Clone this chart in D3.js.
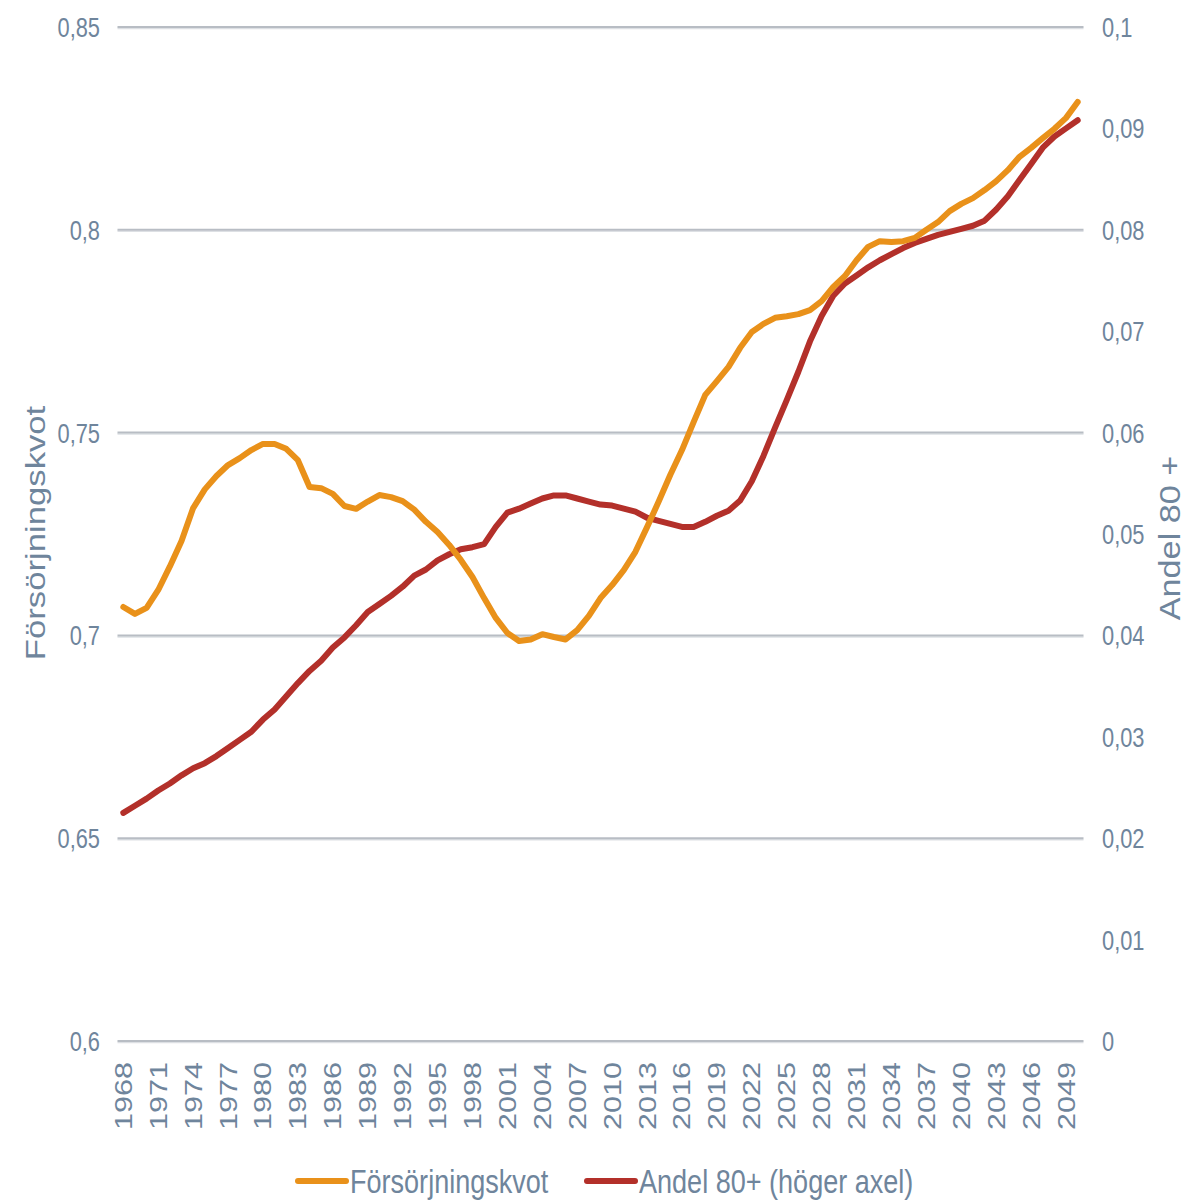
<!DOCTYPE html>
<html>
<head>
<meta charset="utf-8">
<script src="https://cdn.jsdelivr.net/npm/d3@7"></script>
<style>
  body { margin: 0; background: #fff; }
  svg text { font-family: "Liberation Sans", Arial, sans-serif; fill: #6f859c; }
</style>
</head>
<body>
<div id="chart"></div>
<script>
// years 1968..2050, one point per year
const years = d3.range(1968, 2051);

const forsorjningskvot = [
  0.707, 0.7053, 0.7068, 0.7112, 0.717, 0.7233, 0.7314, 0.736, 0.7393, 0.742,
  0.7437, 0.7457, 0.7472, 0.7472, 0.746, 0.7432, 0.7366, 0.7363, 0.7349, 0.7319,
  0.7312, 0.733, 0.7346, 0.7341, 0.7331, 0.731, 0.728, 0.7255, 0.7223, 0.7186,
  0.7144, 0.7092, 0.7043, 0.7006, 0.6986, 0.699, 0.7003, 0.6996, 0.699, 0.7013,
  0.7048, 0.7092, 0.7124, 0.7161, 0.7206, 0.7267, 0.733, 0.7396, 0.7457, 0.7526,
  0.7593, 0.7627, 0.7662, 0.7709, 0.7748, 0.7768, 0.7783, 0.7787, 0.7792, 0.7802,
  0.7824, 0.7859, 0.7886, 0.7925, 0.7958, 0.7972, 0.797, 0.7972, 0.798, 0.8,
  0.8019, 0.8046, 0.8064, 0.8078, 0.8098, 0.812, 0.8147, 0.818, 0.8202, 0.8226,
  0.8249, 0.8276, 0.8315
];

const andel80 = [
  0.0225, 0.0232, 0.0239, 0.0247, 0.0254, 0.0262, 0.0269, 0.0274, 0.0281, 0.0289,
  0.0297, 0.0305, 0.0317, 0.0327, 0.0340, 0.0353, 0.0365, 0.0375, 0.0388, 0.0398,
  0.0410, 0.0423, 0.0431, 0.0439, 0.0448, 0.0459, 0.0465, 0.0474, 0.0480, 0.0485,
  0.0487, 0.0490, 0.0507, 0.0521, 0.0525, 0.0530, 0.0535, 0.0538, 0.0538, 0.0535,
  0.0532, 0.0529, 0.0528, 0.0525, 0.0522, 0.0516, 0.0513, 0.0510, 0.0507, 0.0507,
  0.0512, 0.0518, 0.0523, 0.0533, 0.0552, 0.0577, 0.0605, 0.0632, 0.0660, 0.0690,
  0.0715, 0.0735, 0.0747, 0.0755, 0.0763, 0.0770, 0.0776, 0.0782, 0.0787, 0.0791,
  0.0795, 0.0798, 0.0801, 0.0804, 0.0809, 0.0820, 0.0833, 0.0849, 0.0865, 0.0881,
  0.0892, 0.0900, 0.0908
];

const leftTicks = [0.6, 0.65, 0.7, 0.75, 0.8, 0.85];
const rightTicks = [0, 0.01, 0.02, 0.03, 0.04, 0.05, 0.06, 0.07, 0.08, 0.09, 0.1];
const yearTicks = years.filter((y, i) => i % 3 === 0);

const seriesNames = ["Försörjningskvot", "Andel 80+ (höger axel)"];
const colors = ["#e9911a", "#b3302a"];

const width = 1194, height = 1200;
const plotLeft = 117.5, plotRight = 1083.5, plotTop = 27, plotBottom = 1041;

const svg = d3.select("#chart").append("svg")
  .attr("width", width)
  .attr("height", height);

const x = d3.scalePoint().domain(years).range([plotLeft, plotRight]).padding(0.5);
const yL = d3.scaleLinear().domain([0.6, 0.85]).range([plotBottom, plotTop]);
const yR = d3.scaleLinear().domain([0, 0.1]).range([plotBottom, plotTop]);

const fmt = d => String(d).replace(".", ",");

// gridlines (left axis) - drawn as a darker line with a pale line under it
const grid = svg.append("g");
grid.selectAll("line.under")
  .data(leftTicks)
  .join("line")
  .attr("class", "under")
  .attr("x1", plotLeft).attr("x2", plotRight)
  .attr("y1", d => yL(d) + 1.5).attr("y2", d => yL(d) + 1.5)
  .attr("stroke", "#dde0e4")
  .attr("stroke-width", 1.5);
grid.selectAll("line.main")
  .data(leftTicks)
  .join("line")
  .attr("class", "main")
  .attr("x1", plotLeft).attr("x2", plotRight)
  .attr("y1", d => yL(d)).attr("y2", d => yL(d))
  .attr("stroke", "#b8bdc4")
  .attr("stroke-width", 2);

// left tick labels
svg.append("g")
  .selectAll("text")
  .data(leftTicks)
  .join("text")
  .attr("transform", d => `translate(100,${yL(d)}) scale(0.78,1)`)
  .attr("dy", "0.36em")
  .attr("text-anchor", "end")
  .style("font-size", "28px")
  .text(fmt);

// right tick labels
svg.append("g")
  .selectAll("text")
  .data(rightTicks)
  .join("text")
  .attr("transform", d => `translate(1102,${yR(d)}) scale(0.78,1)`)
  .attr("dy", "0.36em")
  .attr("text-anchor", "start")
  .style("font-size", "28px")
  .text(fmt);

// x labels, rotated
svg.append("g")
  .selectAll("text")
  .data(yearTicks)
  .join("text")
  .attr("transform", d => `translate(${x(d)},1062) rotate(-90) scale(1.3,1)`)
  .attr("dy", "0.36em")
  .attr("text-anchor", "end")
  .style("font-size", "23.5px")
  .text(d => d);

// axis titles
svg.append("text")
  .attr("transform", "translate(35,533) rotate(-90) scale(1.24,1)")
  .attr("dy", "0.36em")
  .attr("text-anchor", "middle")
  .style("font-size", "28px")
  .text("Försörjningskvot");

svg.append("text")
  .attr("transform", "translate(1170,538) rotate(-90) scale(1.18,1)")
  .attr("dy", "0.36em")
  .attr("text-anchor", "middle")
  .style("font-size", "29px")
  .text("Andel 80 +");

// lines
const lineL = d3.line().x((d, i) => x(years[i])).y(d => yL(d));
const lineR = d3.line().x((d, i) => x(years[i])).y(d => yR(d));

svg.append("path")
  .datum(andel80)
  .attr("fill", "none")
  .attr("stroke", colors[1])
  .attr("stroke-width", 6)
  .attr("stroke-linejoin", "round")
  .attr("stroke-linecap", "round")
  .attr("d", lineR);

svg.append("path")
  .datum(forsorjningskvot)
  .attr("fill", "none")
  .attr("stroke", colors[0])
  .attr("stroke-width", 6)
  .attr("stroke-linejoin", "round")
  .attr("stroke-linecap", "round")
  .attr("d", lineL);

// legend
const legendX = [298, 587];
const legend = svg.append("g")
  .selectAll("g")
  .data(seriesNames)
  .join("g")
  .attr("transform", (d, i) => `translate(${legendX[i]},1181)`);

legend.append("line")
  .attr("x1", 0).attr("x2", 48)
  .attr("stroke", (d, i) => colors[i])
  .attr("stroke-width", 6)
  .attr("stroke-linecap", "round");

legend.append("text")
  .attr("transform", "translate(52,0) scale(0.82,1)")
  .attr("dy", "0.36em")
  .style("font-size", "33px")
  .text(d => d);
</script>
</body>
</html>
